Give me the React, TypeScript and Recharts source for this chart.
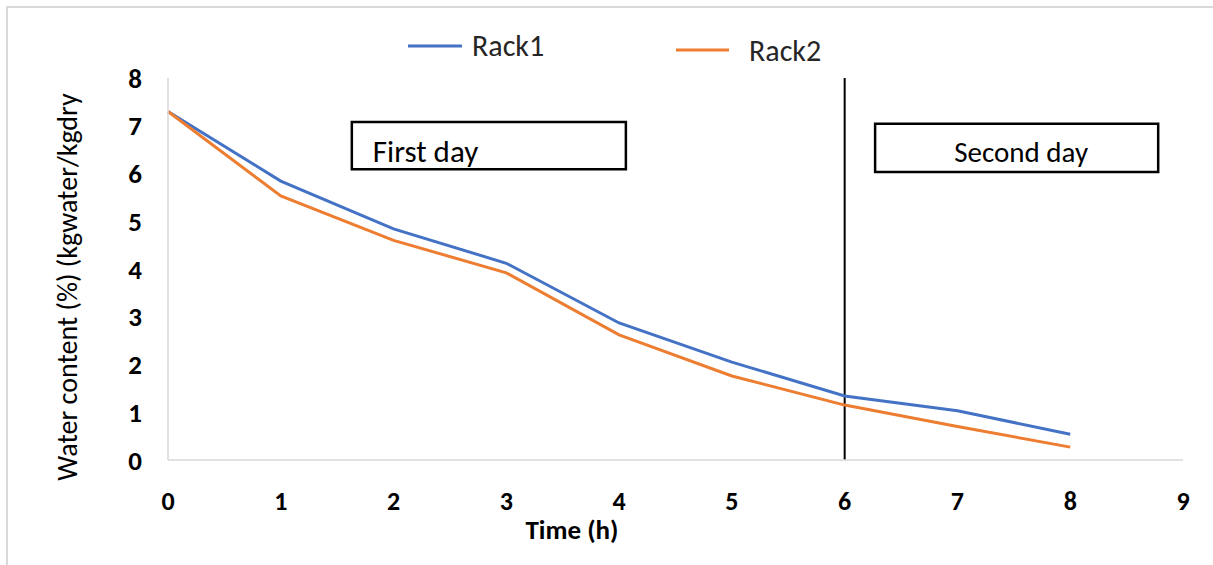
import React from 'react';
import { LineChart, Line, XAxis, YAxis, ReferenceLine, ReferenceArea } from 'recharts';

const times = [0, 1, 2, 3, 4, 5, 6, 7, 8];
const rack1 = [7.3, 5.84, 4.84, 4.12, 2.87, 2.05, 1.34, 1.03, 0.54];
const rack2 = [7.3, 5.53, 4.6, 3.92, 2.62, 1.76, 1.15, 0.7, 0.27];
const xTicks = [0, 1, 2, 3, 4, 5, 6, 7, 8, 9];
const yTicks = [0, 1, 2, 3, 4, 5, 6, 7, 8];
const seriesNames = ['Rack1', 'Rack2'];
const seriesColors = ['#4472C4', '#ED7D31'];

const data = times.map((t, i) => ({ t, Rack1: rack1[i], Rack2: rack2[i] }));

const FONT = 'Carlito, "Open Sans", sans-serif';

const LegendOverlay = () => (
  <svg width={1213} height={80} style={{ position: 'absolute', left: 0, top: 0 }}>
    <line x1={408} x2={462} y1={46} y2={46} stroke={seriesColors[0]} strokeWidth={3} />
    <text x={472} y={56} fontFamily={FONT} fontSize={30} fill="#262626">{seriesNames[0]}</text>
    <line x1={676} x2={729} y1={50} y2={50} stroke={seriesColors[1]} strokeWidth={3} />
    <text x={749} y={60.5} fontFamily={FONT} fontSize={30} fill="#262626">{seriesNames[1]}</text>
  </svg>
);

const XTitle = (props: any) => {
  const vb = props.viewBox || {};
  return (
    <text x={572} y={vb.y + 79} textAnchor="middle" fontFamily={FONT} fontSize={27} fontWeight="bold" fill="#000">
      Time (h)
    </text>
  );
};

const YTitle = () => (
  <text
    x={67}
    y={287}
    transform="rotate(-90 67 287)"
    textAnchor="middle"
    dominantBaseline="central"
    fontFamily={FONT}
    fontSize={28}
    fill="#000"
  >
    Water content (%) (kgwater/kgdry
  </text>
);

export default function App() {
  return (
    <div style={{ position: 'absolute', left: 0, top: 0, width: 1213, height: 565, background: '#fff' }}>
      <div style={{ position: 'absolute', left: 6, top: 6, width: 1213, height: 565, borderTop: '2px solid #d9d9d9', borderLeft: '2px solid #d9d9d9', boxSizing: 'border-box' }} />
      <div style={{ position: 'absolute', left: 0, top: 0 }}>
        <LineChart width={1213} height={565} data={data} margin={{ top: 78, right: 30, left: 108, bottom: 45 }}>
          <XAxis
            dataKey="t"
            type="number"
            domain={[0, 9]}
            ticks={xTicks}
            interval={0}
            height={60}
            tickLine={false}
            tickSize={0}
            tickMargin={32}
            axisLine={{ stroke: '#d9d9d9', strokeWidth: 1.5 }}
            tick={{ fontFamily: FONT, fontSize: 26, fontWeight: 'bold', fill: '#000' }}
            label={<XTitle />}
          />
          <YAxis
            type="number"
            domain={[0, 8]}
            ticks={yTicks}
            interval={0}
            width={60}
            tickLine={false}
            tickSize={0}
            tickMargin={26}
            axisLine={{ stroke: '#d9d9d9', strokeWidth: 1.5 }}
            tick={{ fontFamily: FONT, fontSize: 27, fontWeight: 'bold', fill: '#000' }}
            label={<YTitle />}
          />
          <ReferenceLine x={6} stroke="#000" strokeWidth={2} />
          <ReferenceArea
            x1={1.63}
            x2={4.06}
            y1={6.09}
            y2={7.08}
            fill="#fff"
            fillOpacity={1}
            stroke="#000"
            strokeWidth={2.5}
            label={{ value: 'First day', position: 'insideLeft', offset: 21, dy: 5.5, style: { fontFamily: FONT, fontSize: 31, fill: '#000' } }}
          />
          <ReferenceArea
            x1={6.27}
            x2={8.78}
            y1={6.03}
            y2={7.04}
            fill="#fff"
            fillOpacity={1}
            stroke="#000"
            strokeWidth={2.5}
            label={{ value: 'Second day', position: 'center', dx: 4.5, dy: 3.4, style: { fontFamily: FONT, fontSize: 29, fill: '#000' } }}
          />
          <Line dataKey="Rack1" name={seriesNames[0]} stroke={seriesColors[0]} strokeWidth={3} dot={false} isAnimationActive={false} />
          <Line dataKey="Rack2" name={seriesNames[1]} stroke={seriesColors[1]} strokeWidth={3} dot={false} isAnimationActive={false} />
        </LineChart>
      </div>
      <LegendOverlay />
    </div>
  );
}
